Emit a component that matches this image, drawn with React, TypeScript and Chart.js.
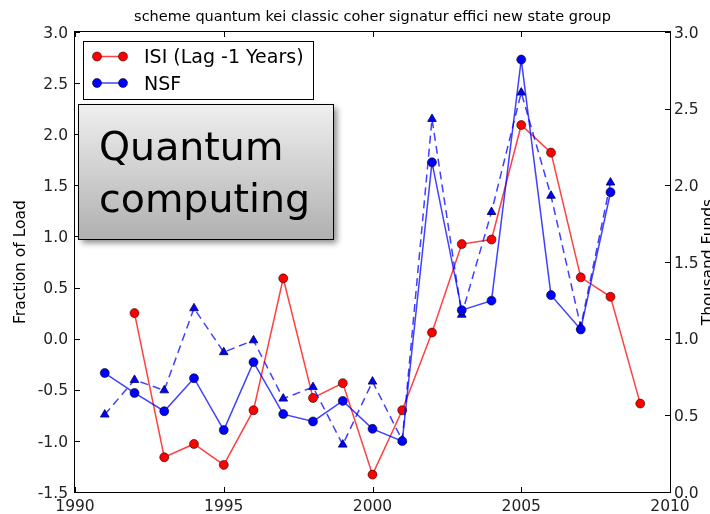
import React, { useEffect, useRef } from "react";
import { Chart, registerables } from "chart.js";

Chart.register(...registerables);

const titleText = "scheme quantum kei classic coher signatur effici new state group";
const leftAxisLabel = "Fraction of Load";
const rightAxisLabel = "Thousand Funds";
const boxLines = ["Quantum", "computing"];

const isiYears = [1992, 1993, 1994, 1995, 1996, 1997, 1998, 1999, 2000, 2001, 2002, 2003, 2004, 2005, 2006, 2007, 2008, 2009];
const isiValues = [0.25, -1.16, -1.03, -1.235, -0.7, 0.59, -0.58, -0.435, -1.33, -0.7, 0.06, 0.925, 0.97, 2.09, 1.82, 0.6, 0.41, -0.635];

const nsfYears = [1991, 1992, 1993, 1994, 1995, 1996, 1997, 1998, 1999, 2000, 2001, 2002, 2003, 2004, 2005, 2006, 2007, 2008];
const nsfValues = [0.776, 0.646, 0.527, 0.742, 0.404, 0.847, 0.508, 0.46, 0.594, 0.412, 0.332, 2.15, 1.186, 1.248, 2.82, 1.284, 1.06, 1.955];
const nsfAltValues = [0.505, 0.731, 0.663, 1.198, 0.912, 0.989, 0.609, 0.684, 0.309, 0.72, 0.337, 2.433, 1.156, 1.826, 2.605, 1.932, 1.078, 2.018];

const xTicks = [1990, 1995, 2000, 2005, 2010];
const leftTicks = [-1.5, -1.0, -0.5, 0.0, 0.5, 1.0, 1.5, 2.0, 2.5, 3.0];
const rightTicks = [0.0, 0.5, 1.0, 1.5, 2.0, 2.5, 3.0];

const legendItems = [
  { label: "ISI (Lag -1 Years)", color: "#ff0000", line: "rgba(255,0,0,0.75)" },
  { label: "NSF", color: "#0000ff", line: "rgba(0,0,255,0.75)" },
];

const FONT = "'DejaVu Sans', 'Liberation Sans', sans-serif";

const decor = {
  id: "decor",
  beforeDatasetsDraw(chart: any) {
    const { ctx, chartArea: a, scales } = chart;
    const fs = 15.5;
    ctx.save();
    ctx.strokeStyle = "#000";
    ctx.lineWidth = 1;
    ctx.strokeRect(a.left - 0.5, a.top - 0.5, a.right - a.left + 1, a.bottom - a.top + 1);
    const tl = 5;
    ctx.beginPath();
    for (const v of xTicks) {
      const x = Math.round(scales.x.getPixelForValue(v)) + 0.5;
      ctx.moveTo(x, a.bottom);
      ctx.lineTo(x, a.bottom - tl);
      ctx.moveTo(x, a.top);
      ctx.lineTo(x, a.top + tl);
    }
    for (const v of leftTicks) {
      const y = Math.round(scales.y.getPixelForValue(v)) + 0.5;
      ctx.moveTo(a.left, y);
      ctx.lineTo(a.left + tl, y);
    }
    for (const v of rightTicks) {
      const y = Math.round(scales.y2.getPixelForValue(v)) + 0.5;
      ctx.moveTo(a.right, y);
      ctx.lineTo(a.right - tl, y);
    }
    ctx.stroke();

    ctx.fillStyle = "#222";
    ctx.font = `${fs}px ${FONT}`;
    ctx.textBaseline = "alphabetic";
    const half = 0.3645 * fs;
    ctx.textAlign = "right";
    for (const v of leftTicks) {
      const y = scales.y.getPixelForValue(v);
      ctx.fillText(v.toFixed(1), a.left - 7, y + half);
    }
    ctx.textAlign = "left";
    for (const v of rightTicks) {
      const y = scales.y2.getPixelForValue(v);
      ctx.fillText(v.toFixed(1), a.right + 4, y + half);
    }
    ctx.textAlign = "center";
    for (const v of xTicks) {
      const x = scales.x.getPixelForValue(v);
      ctx.fillText(String(v), x, a.bottom + 18.5);
    }

    // axis labels
    ctx.fillStyle = "#000";
    ctx.font = `${fs}px ${FONT}`;
    ctx.save();
    ctx.translate(24.5, (a.top + a.bottom) / 2);
    ctx.rotate(-Math.PI / 2);
    ctx.textAlign = "center";
    ctx.fillText(leftAxisLabel, 0, 0);
    ctx.restore();
    ctx.save();
    ctx.translate(713, (a.top + a.bottom) / 2);
    ctx.rotate(-Math.PI / 2);
    ctx.textAlign = "center";
    ctx.fillText(rightAxisLabel, 0, 0);
    ctx.restore();

    // title
    ctx.font = `14.5px ${FONT}`;
    ctx.textAlign = "center";
    ctx.fillText(titleText, (a.left + a.right) / 2, 21);
    ctx.restore();
  },
  afterDraw(chart: any) {
    const { ctx } = chart;
    ctx.save();
    // legend
    ctx.fillStyle = "#fff";
    ctx.fillRect(83.5, 41.5, 230, 58);
    ctx.strokeStyle = "#000";
    ctx.lineWidth = 1;
    ctx.strokeRect(83.5, 41.5, 230, 58);
    const rows = [56.5, 83];
    legendItems.forEach((it, i) => {
      const y = rows[i];
      ctx.strokeStyle = it.line;
      ctx.lineWidth = 1.5;
      ctx.beginPath();
      ctx.moveTo(97, y);
      ctx.lineTo(123, y);
      ctx.stroke();
      for (const x of [97, 123]) {
        ctx.beginPath();
        ctx.arc(x, y, 4.5, 0, Math.PI * 2);
        ctx.fillStyle = it.color;
        ctx.fill();
        ctx.strokeStyle = "rgba(0,0,0,0.55)";
        ctx.lineWidth = 1;
        ctx.stroke();
      }
      ctx.fillStyle = "#000";
      ctx.font = `19px ${FONT}`;
      ctx.textAlign = "left";
      ctx.textBaseline = "alphabetic";
      ctx.fillText(it.label, 144, y + 0.3645 * 19);
    });

    // text box
    const bx = 78.5, by = 104.5, bw = 255, bh = 135;
    ctx.save();
    ctx.shadowColor = "rgba(0,0,0,0.45)";
    ctx.shadowBlur = 6;
    ctx.shadowOffsetX = 3;
    ctx.shadowOffsetY = 3;
    const g = ctx.createLinearGradient(0, by, 0, by + bh);
    g.addColorStop(0, "#efefef");
    g.addColorStop(1, "#b0b0b0");
    ctx.fillStyle = g;
    ctx.fillRect(bx, by, bw, bh);
    ctx.restore();
    ctx.strokeStyle = "#000";
    ctx.lineWidth = 1;
    ctx.strokeRect(bx, by, bw, bh);
    ctx.fillStyle = "#000";
    ctx.font = `39.5px ${FONT}`;
    ctx.textAlign = "left";
    ctx.textBaseline = "alphabetic";
    ctx.fillText(boxLines[0], 99, 160);
    ctx.fillText(boxLines[1], 99, 212);
    ctx.restore();
  },
};

export default function App() {
  const ref = useRef<HTMLCanvasElement | null>(null);
  useEffect(() => {
    if (!ref.current) return;
    const chart = new Chart(ref.current, {
      type: "line",
      data: {
        datasets: [
          {
            label: legendItems[0].label,
            data: isiYears.map((x, i) => ({ x, y: isiValues[i] })),
            yAxisID: "y",
            borderColor: "rgba(255,0,0,0.75)",
            borderWidth: 1.5,
            pointBackgroundColor: "#ff0000",
            pointBorderColor: "rgba(0,0,0,0.55)",
            pointBorderWidth: 1,
            pointRadius: 4.5,
            tension: 0,
            order: 3,
          },
          {
            label: legendItems[1].label,
            data: nsfYears.map((x, i) => ({ x, y: nsfValues[i] })),
            yAxisID: "y2",
            borderColor: "rgba(0,0,255,0.75)",
            borderWidth: 1.5,
            pointBackgroundColor: "#0000ff",
            pointBorderColor: "rgba(0,0,0,0.55)",
            pointBorderWidth: 1,
            pointRadius: 4.5,
            tension: 0,
            order: 1,
          },
          {
            label: "NSF (alt)",
            data: nsfYears.map((x, i) => ({ x, y: nsfAltValues[i] })),
            yAxisID: "y2",
            borderColor: "rgba(0,0,255,0.75)",
            borderWidth: 1.5,
            borderDash: [8, 5],
            pointStyle: "triangle",
            pointBackgroundColor: "#0000ff",
            pointBorderColor: "rgba(0,0,90,0.8)",
            pointBorderWidth: 1,
            pointRadius: 5,
            tension: 0,
            order: 2,
          },
        ],
      },
      options: {
        animation: false,
        responsive: false,
        devicePixelRatio: 1,
        layout: { padding: { top: 32, left: 0, right: 0, bottom: 0 } },
        plugins: {
          legend: { display: false },
          tooltip: { enabled: false },
          title: { display: false },
        },
        scales: {
          x: {
            type: "linear",
            position: "bottom",
            min: 1990,
            max: 2010,
            ticks: { display: false },
            grid: { display: false },
            border: { display: false },
            afterBuildTicks: (s: any) => { s.ticks = xTicks.map((v) => ({ value: v })); },
            afterFit: (s: any) => { s.height = 22; },
          },
          y: {
            type: "linear",
            position: "left",
            min: -1.5,
            max: 3.0,
            ticks: { display: false },
            grid: { display: false },
            border: { display: false },
            afterBuildTicks: (s: any) => { s.ticks = leftTicks.map((v) => ({ value: v })); },
            afterFit: (s: any) => { s.width = 75; },
          },
          y2: {
            type: "linear",
            position: "right",
            min: 0,
            max: 3.0,
            ticks: { display: false },
            grid: { display: false },
            border: { display: false },
            afterBuildTicks: (s: any) => { s.ticks = rightTicks.map((v) => ({ value: v })); },
            afterFit: (s: any) => { s.width = 40; },
          },
        },
      },
      plugins: [decor],
    });
    return () => chart.destroy();
  }, []);
  return (
    <div style={{ position: "absolute", left: 0, top: 0, width: 710, height: 514, background: "#fff" }}>
      <canvas ref={ref} width={710} height={514} style={{ display: "block" }} />
    </div>
  );
}
